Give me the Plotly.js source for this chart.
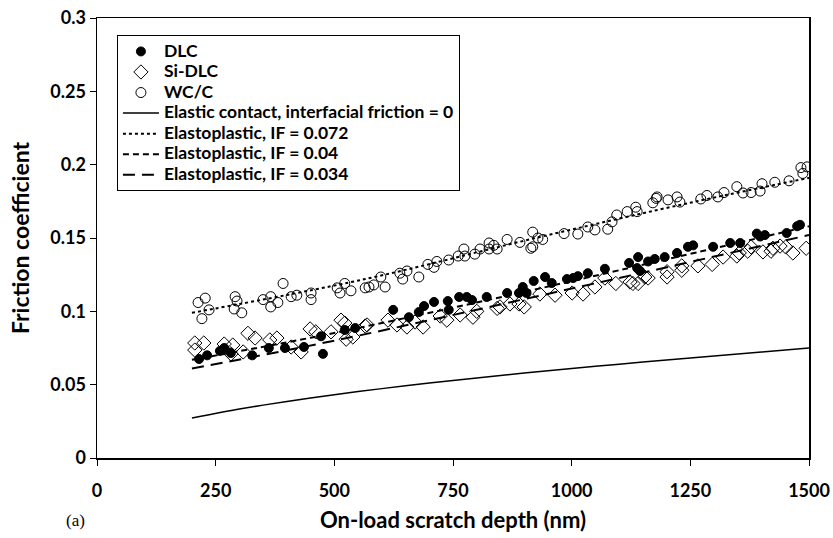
<!DOCTYPE html>
<html>
<head>
<meta charset="utf-8">
<script src="https://cdn.plot.ly/plotly-3.0.1.min.js"></script>
<style>html,body{margin:0;padding:0;background:#fff;}#chart{width:833px;height:538px;}</style>
</head>
<body>
<div id="chart"></div>
<script>
// ---- data ----
const dlcX = [215,232,259,268,282,327,362,396,436,472,476,522,544,624,657,678,689,710,739,741,763,779,790,821,864,889,897,905,920,944,958,990,1003,1013,1034,1070,1121,1138,1140,1144,1161,1175,1196,1222,1245,1256,1298,1334,1355,1390,1397,1407,1453,1475,1481];
const dlcY = [0.0675,0.070,0.073,0.075,0.0716,0.070,0.075,0.075,0.0757,0.083,0.071,0.0873,0.0886,0.101,0.096,0.0995,0.1036,0.1064,0.107,0.101,0.1098,0.1098,0.1077,0.1098,0.1125,0.1125,0.1166,0.1125,0.1207,0.1234,0.1193,0.122,0.1227,0.124,0.126,0.129,0.133,0.1295,0.137,0.1275,0.134,0.1357,0.137,0.1398,0.144,0.145,0.144,0.1466,0.1466,0.153,0.151,0.152,0.1534,0.158,0.159];

const siX = [206,206,225,268,282,286,308,318,333,364,379,409,430,449,461,493,514,522,525,539,565,569,613,632,653,670,687,723,737,765,792,800,843,849,870,889,900,933,965,1001,1024,1049,1070,1093,1123,1129,1140,1154,1161,1201,1201,1232,1232,1266,1296,1319,1348,1353,1371,1378,1403,1420,1424,1439,1451,1466,1494];
const siY = [0.0784,0.0736,0.0784,0.0777,0.071,0.077,0.0723,0.085,0.0818,0.0805,0.0818,0.0757,0.0723,0.088,0.086,0.086,0.094,0.092,0.081,0.0825,0.090,0.0907,0.094,0.0907,0.0893,0.0927,0.0893,0.0968,0.094,0.0975,0.096,0.100,0.102,0.103,0.105,0.105,0.103,0.1118,0.111,0.1125,0.1118,0.1166,0.1227,0.119,0.120,0.119,0.119,0.1234,0.1227,0.127,0.1234,0.131,0.128,0.131,0.132,0.137,0.1377,0.1398,0.141,0.1439,0.1405,0.141,0.143,0.1445,0.1439,0.1398,0.143];

const wcX = [213,221,228,236,289,291,295,305,350,366,366,381,392,409,421,451,451,506,512,522,535,565,573,583,598,607,638,644,653,678,697,710,716,741,761,773,775,796,807,826,826,836,843,864,891,914,918,918,929,939,984,1013,1034,1049,1076,1085,1095,1117,1135,1138,1171,1178,1180,1203,1222,1228,1272,1285,1308,1321,1348,1361,1378,1397,1401,1428,1458,1483,1487,1496];
const wcY = [0.106,0.095,0.109,0.101,0.1016,0.110,0.107,0.099,0.108,0.110,0.103,0.106,0.119,0.110,0.111,0.1125,0.108,0.116,0.1125,0.119,0.114,0.116,0.1166,0.118,0.1234,0.1166,0.126,0.122,0.1275,0.1234,0.132,0.130,0.134,0.135,0.1377,0.1425,0.1377,0.139,0.1425,0.1466,0.1425,0.145,0.1425,0.149,0.147,0.143,0.154,0.144,0.150,0.149,0.153,0.1527,0.1575,0.1555,0.156,0.161,0.1657,0.168,0.171,0.168,0.174,0.177,0.178,0.176,0.178,0.1745,0.1766,0.179,0.178,0.181,0.185,0.1807,0.181,0.182,0.187,0.188,0.189,0.198,0.194,0.1985];

const elasticX = [200,300,400,500,600,700,800,900,1000,1100,1200,1300,1400,1500];
const elasticY = [0.0273,0.0334,0.0386,0.0432,0.0473,0.0511,0.0546,0.0579,0.0610,0.0640,0.0669,0.0696,0.0722,0.0750];

const if072X = [200,565,933,1256,1500];
const if072Y = [0.099,0.122,0.1507,0.1745,0.191];

const if040X = [200,450,800,1100,1500];
const if040Y = [0.067,0.082,0.106,0.128,0.158];

const if034X = [200,500,1000,1500];
const if034Y = [0.061,0.080,0.1155,0.152];

const xTicks = [0,250,500,750,1000,1250,1500];
const yTicks = [0,0.05,0.1,0.15,0.2,0.25,0.3];

const seriesNames = ['DLC','Si-DLC','WC/C','Elastic contact, interfacial friction = 0',
  'Elastoplastic, IF = 0.072','Elastoplastic, IF = 0.04','Elastoplastic, IF = 0.034'];
const lg = s => '<span style="font-size:17.5px"><b>' + s + '</b></span>';

// ---- traces ----
const F = 'Lato, "Open Sans", sans-serif';
const traces = [
  {x: dlcX, y: dlcY, type:'scatter', mode:'markers', name: lg(seriesNames[0]),
   marker:{symbol:'circle', size:9, color:'#000', line:{width:1, color:'#000'}}},
  {x: siX, y: siY, type:'scatter', mode:'markers', name: lg(seriesNames[1]),
   marker:{symbol:'diamond-open', size:11, color:'#000', line:{width:1, color:'#000'}}},
  {x: wcX, y: wcY, type:'scatter', mode:'markers', name: lg(seriesNames[2]),
   marker:{symbol:'circle-open', size:10, color:'#000', line:{width:1, color:'#000'}}},
  {x: elasticX, y: elasticY, type:'scatter', mode:'lines', name: lg(seriesNames[3]),
   line:{color:'#000', width:1.5, shape:'spline', smoothing:0.6}},
  {x: if072X, y: if072Y, type:'scatter', mode:'lines', name: lg(seriesNames[4]),
   line:{color:'#000', width:2, dash:'dot', shape:'spline'}},
  {x: if040X, y: if040Y, type:'scatter', mode:'lines', name: lg(seriesNames[5]),
   line:{color:'#000', width:2, dash:'6px,4px', shape:'spline'}},
  {x: if034X, y: if034Y, type:'scatter', mode:'lines', name: lg(seriesNames[6]),
   line:{color:'#000', width:2, dash:'12px,7px', shape:'spline'}}
];

const layout = {
  width: 833, height: 538,
  margin: {l: 97, r: 24, t: 18, b: 80},
  paper_bgcolor: '#fff', plot_bgcolor: '#fff',
  font: {family: F, color: '#000'},
  showlegend: true,
  legend: {x: 0.028, y: 0.961, xanchor: 'left', yanchor: 'top',
    bordercolor: '#000', borderwidth: 1, bgcolor: '#fff',
    font: {family: F, size: 13.5, color: '#000'}, tracegroupgap: 0, itemwidth: 36},
  xaxis: {range: [0, 1500], tickvals: xTicks, ticktext: xTicks.map(String),
    showgrid: false, zeroline: false, showline: true, mirror: true, linecolor: '#000', linewidth: 1.5,
    ticks: 'outside', ticklen: 6, tickcolor: '#000', tickwidth: 1, ticklabelstandoff: 10,
    tickfont: {family: F, size: 18, color: '#000', weight: 'bold'},
    title: {text: '<b>On-load scratch depth (nm)</b>', font: {family: F, size: 22, color: '#000'}, standoff: 12}},
  yaxis: {range: [0, 0.3], tickvals: yTicks, ticktext: yTicks.map(String),
    showgrid: false, zeroline: false, showline: true, mirror: true, linecolor: '#000', linewidth: 1.5,
    ticks: 'outside', ticklen: 6, tickcolor: '#000', tickwidth: 1,
    tickfont: {family: F, size: 18, color: '#000', weight: 'bold'},
    title: {text: '<b>Friction coefficient</b>', font: {family: F, size: 23, color: '#000'}, standoff: 14}},
  annotations: [{text: '(a)', xref: 'paper', yref: 'paper', x: -0.0295, y: -0.143,
    xanchor: 'center', yanchor: 'middle', showarrow: false,
    font: {family: '"Liberation Serif", "DejaVu Serif", serif', size: 17, color: '#000'}}]
};

Plotly.newPlot('chart', traces, layout, {displayModeBar: false, staticPlot: true});
</script>
</body>
</html>
